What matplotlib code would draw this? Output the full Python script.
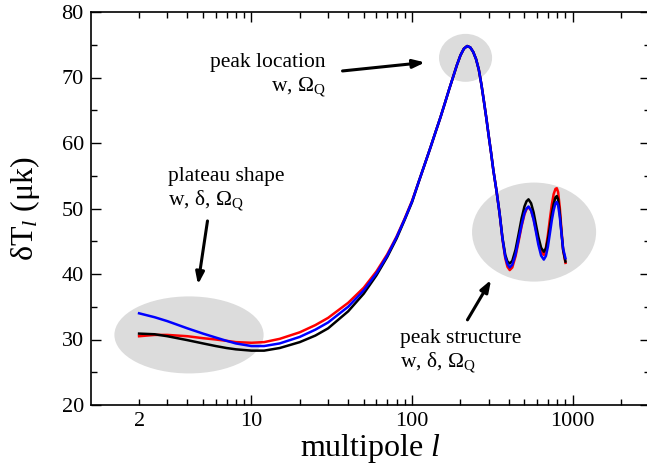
import numpy as np
import matplotlib
matplotlib.use("Agg")
import matplotlib.pyplot as plt
from matplotlib.patches import Ellipse
from matplotlib.ticker import FixedLocator, LogLocator, FuncFormatter, MultipleLocator

plt.rcParams['font.family'] = ['Liberation Serif', 'DejaVu Serif']
plt.rcParams['mathtext.fontset'] = 'custom'
plt.rcParams['mathtext.rm'] = 'Liberation Serif'
plt.rcParams['mathtext.it'] = 'Liberation Serif:italic'

# multipole grid
ell = [2, 2.5, 3, 4, 5, 6, 7, 8, 10, 12, 15, 20, 25, 30, 40, 50, 60, 70, 80, 90,
       100, 110, 120, 130, 140, 150, 160, 170, 180, 190, 200, 210, 220, 230, 240,
       250, 260, 270, 280, 290, 300, 310, 320, 335, 350, 365, 380, 392, 405, 420,
       440, 460, 480, 500, 515, 530, 550, 570, 590, 610, 635, 660, 680, 700, 720,
       740, 760, 780, 795, 810, 830, 850, 870, 900]

# shared values for the acoustic peak (l = 110 .. 350)
peak = [54.1, 56.8, 59.3, 61.7, 63.9, 66.1, 68.2, 70.1, 71.9, 73.4, 74.4, 74.8,
        74.6, 73.9, 72.8, 71.2, 68.9, 66.3, 63.7, 61.0, 58.5, 55.9, 52.7, 49.3]

dT_black = [30.9, 30.8, 30.5, 29.9, 29.4, 29.0, 28.7, 28.5, 28.3, 28.3, 28.7, 29.6,
            30.6, 31.7, 34.3, 37.0, 39.8, 42.6, 45.4, 48.3, 51.0] + peak + \
           [45.5, 42.9, 41.9, 41.6, 42.0, 43.7, 46.1,
            48.5, 50.3, 51.1, 51.4, 50.8, 49.4, 47.5, 45.7, 44.0, 43.4, 43.9, 45.3,
            47.2, 49.2, 50.7, 51.7, 51.9, 51.4, 49.2, 46.3, 43.7, 41.9]

dT_red = [30.5, 30.7, 30.7, 30.5, 30.2, 30.0, 29.8, 29.6, 29.5, 29.6, 30.1, 31.1,
          32.2, 33.3, 35.6, 37.9, 40.4, 43.0, 45.7, 48.5, 51.2] + peak + \
         [45.3, 42.4, 41.1, 40.6, 41.0, 42.7, 45.0,
          47.3, 49.1, 49.9, 50.2, 49.7, 48.4, 46.7, 45.0, 43.4, 42.9, 44.0, 46.0,
          48.4, 50.6, 52.2, 53.0, 53.1, 52.5, 50.1, 46.7, 43.7, 41.7]

dT_blue = [34.0, 33.4, 32.8, 31.7, 30.9, 30.3, 29.8, 29.4, 29.0, 29.0, 29.4, 30.4,
           31.5, 32.6, 35.0, 37.5, 40.1, 42.8, 45.6, 48.4, 51.1] + peak + \
          [45.4, 42.6, 41.5, 41.0, 41.4, 43.0, 45.3,
           47.5, 49.3, 50.0, 50.3, 49.7, 48.3, 46.4, 44.5, 42.8, 42.2, 42.75, 44.2,
           46.2, 48.2, 49.75, 50.8, 51.0, 50.5, 48.7, 46.2, 43.9, 42.4]

fig = plt.figure(figsize=(6.47, 4.68), dpi=100)
ax = fig.add_axes([90.7 / 647, 63 / 468, 558.8 / 647, 393 / 468])

ax.set_xscale('log')
ax.set_xlim(1, 3000)
ax.set_ylim(20, 80)

# grey highlight ellipses (center in data, size in axes fraction)
def blob(l, t, w, h):
    cx, cy = ax.transAxes.inverted().transform(ax.transData.transform((l, t)))
    ax.add_patch(Ellipse((cx, cy), w, h, transform=ax.transAxes,
                         facecolor='#dcdcdc', edgecolor='none', zorder=1))

blob(4.09, 30.7, 0.267, 0.196)
blob(215, 73.0, 0.095, 0.122)
blob(574, 46.4, 0.222, 0.252)

ax.plot(ell, dT_red, color='#ff0000', lw=1.8, zorder=2)
ax.plot(ell, dT_black, color='black', lw=1.8, zorder=3)
ax.plot(ell, dT_blue, color='#0000ff', lw=1.8, zorder=4)

# ticks
ax.xaxis.set_major_locator(FixedLocator([10, 100, 1000]))
ax.xaxis.set_major_formatter(FuncFormatter(lambda v, p: '%d' % v))
ax.xaxis.set_minor_locator(LogLocator(base=10, subs=range(2, 10)))
ax.xaxis.set_minor_formatter(FuncFormatter(lambda v, p: '2' if abs(v - 2) < 1e-6 else ''))
ax.set_yticks(range(20, 81, 10))
ax.yaxis.set_minor_locator(MultipleLocator(5))
ax.tick_params(which='both', direction='in', top=True, right=True, labelsize=16, pad=5, width=1)
ax.tick_params(which='major', length=7)
ax.tick_params(which='minor', length=4)
for s in ax.spines.values():
    s.set_linewidth(1.2)

ax.set_xlabel('multipole $l$', fontsize=23, labelpad=1)
ax.set_ylabel(r'δT$_{l}$ (μk)', fontsize=23, labelpad=14)

# annotations
txt = dict(fontsize=15.5, va='baseline')
ax.text(29.1, 71.6, 'peak location', ha='right', **txt)
ax.text(29.1, 67.9, r'w, Ω$_{\mathrm{Q}}$', ha='right', **txt)
ax.text(3.03, 54.2, 'plateau shape', ha='left', **txt)
ax.text(3.03, 50.4, r'w, δ, Ω$_{\mathrm{Q}}$', ha='left', **txt)
ax.text(84, 29.5, 'peak structure', ha='left', **txt)
ax.text(84, 25.8, r'w, δ, Ω$_{\mathrm{Q}}$', ha='left', **txt)

arrow = dict(arrowstyle='-|>,head_length=0.7,head_width=0.25', lw=2.2, color='black',
             shrinkA=0, shrinkB=0)
ax.annotate('', xy=(120.3, 72.3), xytext=(36.9, 71.0), arrowprops=arrow)
ax.annotate('', xy=(4.65, 38.4), xytext=(5.33, 48.1), arrowprops=arrow)
ax.annotate('', xy=(310, 39.1), xytext=(221, 33.0), arrowprops=arrow)

fig.savefig('out.png', dpi=100)
